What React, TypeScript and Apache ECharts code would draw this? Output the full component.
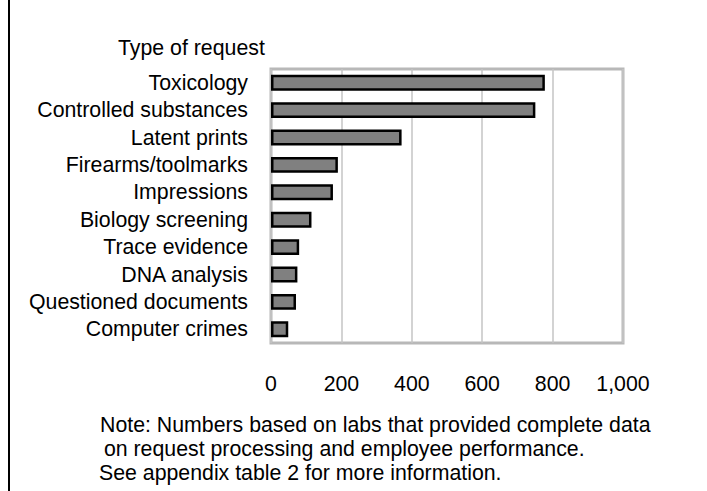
import React, { useEffect, useRef } from "react";
import * as echarts from "echarts";

const categories = [
  "Toxicology",
  "Controlled substances",
  "Latent prints",
  "Firearms/toolmarks",
  "Impressions",
  "Biology screening",
  "Trace evidence",
  "DNA analysis",
  "Questioned documents",
  "Computer crimes",
];
const values = [778, 751, 371, 190, 176, 115, 80, 75, 71, 49];
const xTicks = { min: 0, max: 1000, interval: 200 };
const axisTitle = "Type of request";
const noteLines = [
  "Note: Numbers based on labs that provided complete data",
  " on request processing and employee performance.",
  "See appendix table 2 for more information.",
];

const FONT = "'Liberation Sans', Arial, sans-serif";
const FS = 21.3;

export default function App() {
  const ref = useRef<HTMLDivElement>(null);
  useEffect(() => {
    if (!ref.current) return;
    const chart = echarts.init(ref.current, undefined, { renderer: "svg" });
    chart.setOption({
      animation: false,
      backgroundColor: "#fff",
      grid: {
        left: 271,
        right: 84,
        top: 69,
        bottom: 148,
        show: true,
        borderColor: "#b8b8b8",
        borderWidth: 3,
        containLabel: false,
      },
      xAxis: {
        type: "value",
        min: xTicks.min,
        max: xTicks.max,
        interval: xTicks.interval,
        axisLine: { show: false },
        axisTick: { show: false },
        splitLine: { show: true, lineStyle: { color: "#c4c4c4", width: 1.5 } },
        axisLabel: {
          fontSize: FS,
          fontFamily: FONT,
          color: "#000",
          margin: 30,
          formatter: (v: number) => v.toLocaleString("en-US"),
        },
      },
      yAxis: {
        type: "category",
        data: categories,
        inverse: true,
        axisLine: { show: false },
        axisTick: { show: false },
        axisLabel: {
          fontSize: FS,
          fontFamily: FONT,
          color: "#000",
          margin: 23,
        },
      },
      series: [
        {
          type: "bar",
          data: values,
          barWidth: "58%",
          itemStyle: { color: "#808080", borderColor: "#000", borderWidth: 2.5 },
        },
      ],
      graphic: [
        {
          type: "line",
          shape: { x1: 9, y1: 0, x2: 9, y2: 491 },
          style: { stroke: "#000", lineWidth: 2 },
        },
        {
          type: "text",
          x: 118,
          y: 48,
          style: {
            text: axisTitle,
            fontSize: FS,
            fontFamily: FONT,
            fill: "#000",
            verticalAlign: "middle",
          },
        },
        ...noteLines.map((t, i) => ({
          type: "text",
          x: [100, 98, 99][i],
          y: 425 + i * 24,
          style: {
            text: t,
            fontSize: FS,
            fontFamily: FONT,
            fill: "#000",
            verticalAlign: "middle",
          },
        })),
      ],
    });
    return () => chart.dispose();
  }, []);
  return <div ref={ref} style={{ width: 707, height: 491, position: "absolute", left: 0, top: 0 }} />;
}
